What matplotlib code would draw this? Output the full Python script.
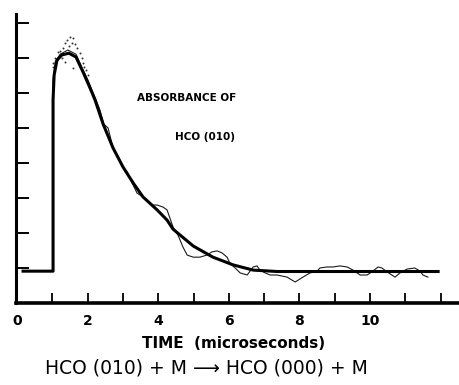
import matplotlib
matplotlib.use("Agg")
import matplotlib.pyplot as plt

# fitted curve (time in microseconds, absorbance in tick units)
fit_t = [0.17, 1.02, 1.02, 1.05, 1.13, 1.27, 1.47, 1.67, 1.87, 2.07, 2.21, 2.44, 2.72,
         3.00, 3.29, 3.57, 3.97, 4.25, 4.42, 4.99, 5.55, 6.12, 6.69, 7.37, 11.93]
fit_a = [0.91, 0.91, 5.80, 6.51, 6.94, 7.09, 7.14, 7.03, 6.60, 6.14, 5.80, 5.11, 4.43,
         3.89, 3.43, 3.03, 2.66, 2.37, 2.11, 1.63, 1.31, 1.09, 0.94, 0.90, 0.90]

# measured trace
raw_t = [0.17, 1.02, 1.02, 1.08, 1.22, 1.44, 1.67, 1.87, 2.01, 2.12, 2.24, 2.35, 2.46,
         2.58, 2.72, 2.86, 3.00, 3.12, 3.29, 3.40, 3.62, 3.71, 3.85, 3.97, 4.14, 4.25,
         4.33, 4.42, 4.56, 4.70, 4.82, 4.99, 5.18, 5.38, 5.52, 5.67, 5.81, 5.95, 6.03,
         6.18, 6.32, 6.52, 6.69, 6.80, 6.88, 7.03, 7.17, 7.37, 7.65, 7.88, 8.10, 8.30,
         8.50, 8.58, 8.78, 8.95, 9.15, 9.35, 9.52, 9.72, 9.92, 10.08, 10.23, 10.34,
         10.48, 10.71, 10.85, 11.05, 11.27, 11.42, 11.50, 11.64]
raw_a = [0.91, 0.91, 6.37, 6.89, 7.11, 7.23, 7.11, 6.66, 6.37, 6.09, 5.80, 5.51, 5.11,
         5.00, 4.43, 4.20, 3.89, 3.74, 3.37, 3.14, 3.00, 2.89, 2.80, 2.80, 2.74, 2.66,
         2.43, 2.17, 1.94, 1.60, 1.37, 1.31, 1.31, 1.37, 1.46, 1.49, 1.43, 1.31, 1.14,
         1.00, 0.86, 0.80, 1.03, 1.06, 0.94, 0.86, 0.80, 0.80, 0.74, 0.60, 0.74, 0.86,
         0.91, 1.00, 1.03, 1.03, 1.06, 1.03, 0.94, 0.80, 0.80, 0.91, 1.03, 1.00, 0.89,
         0.74, 0.86, 0.97, 1.00, 0.91, 0.80, 0.74]

# scattered points around the peak
dot_t = [1.50, 1.42, 1.59, 1.36, 1.56, 1.30, 1.70, 1.16, 1.78, 1.08, 1.02, 1.27, 1.36,
         1.59, 1.84, 1.87, 1.02, 1.95, 2.01, 1.47, 1.22, 1.65, 1.12, 1.90]
dot_a = [7.60, 7.51, 7.57, 7.43, 7.43, 7.29, 7.29, 7.17, 7.14, 7.00, 6.86, 7.00, 6.89,
         6.71, 7.00, 6.86, 6.74, 6.66, 6.51, 7.35, 7.20, 7.40, 6.95, 6.75]

x_ticks = list(range(0, 13))
x_labels = ["0", "", "2", "", "4", "", "6", "", "8", "", "10", "", ""]
y_ticks = list(range(1, 9))

fig = plt.figure(figsize=(4.6, 3.85), dpi=100)
ax = fig.add_axes([16 / 460, 82 / 385, 444 / 460, 289 / 385])
ax.set_xlim(-0.03, 12.55)
ax.set_ylim(0, 8.26)

ax.plot(raw_t, raw_a, color="#1a1a1a", lw=0.8, zorder=2)
ax.scatter(dot_t, dot_a, s=2, color="#333333", lw=0, zorder=2)
ax.plot(fit_t, fit_a, color="black", lw=2.2, zorder=3, solid_joinstyle="round")

for side in ("top", "right"):
    ax.spines[side].set_visible(False)
ax.spines["left"].set_linewidth(2.2)
ax.spines["bottom"].set_linewidth(2.6)

ax.set_xticks(x_ticks)
ax.set_xticklabels(x_labels, fontsize=10, fontweight="bold")
ax.set_yticks(y_ticks)
ax.set_yticklabels([])
ax.tick_params(axis="x", direction="in", length=7, width=1.3, pad=8)
ax.tick_params(axis="y", direction="in", length=9, width=1.4)

ax.text(3.40, 5.86, "ABSORBANCE OF", fontsize=7.5, fontweight="bold", va="center", ha="left")
ax.text(4.48, 4.74, "HCO (010)", fontsize=7.5, fontweight="bold", va="center", ha="left")

fig.text(234 / 460, 1 - 343 / 385, "TIME  (microseconds)", fontsize=11, fontweight="bold",
         ha="center", va="center")
fig.text(206 / 460, 1 - 368 / 385, "HCO (010) + M \u27f6 HCO (000) + M", fontsize=13.5,
         ha="center", va="center")

fig.savefig("out.png", dpi=100)
